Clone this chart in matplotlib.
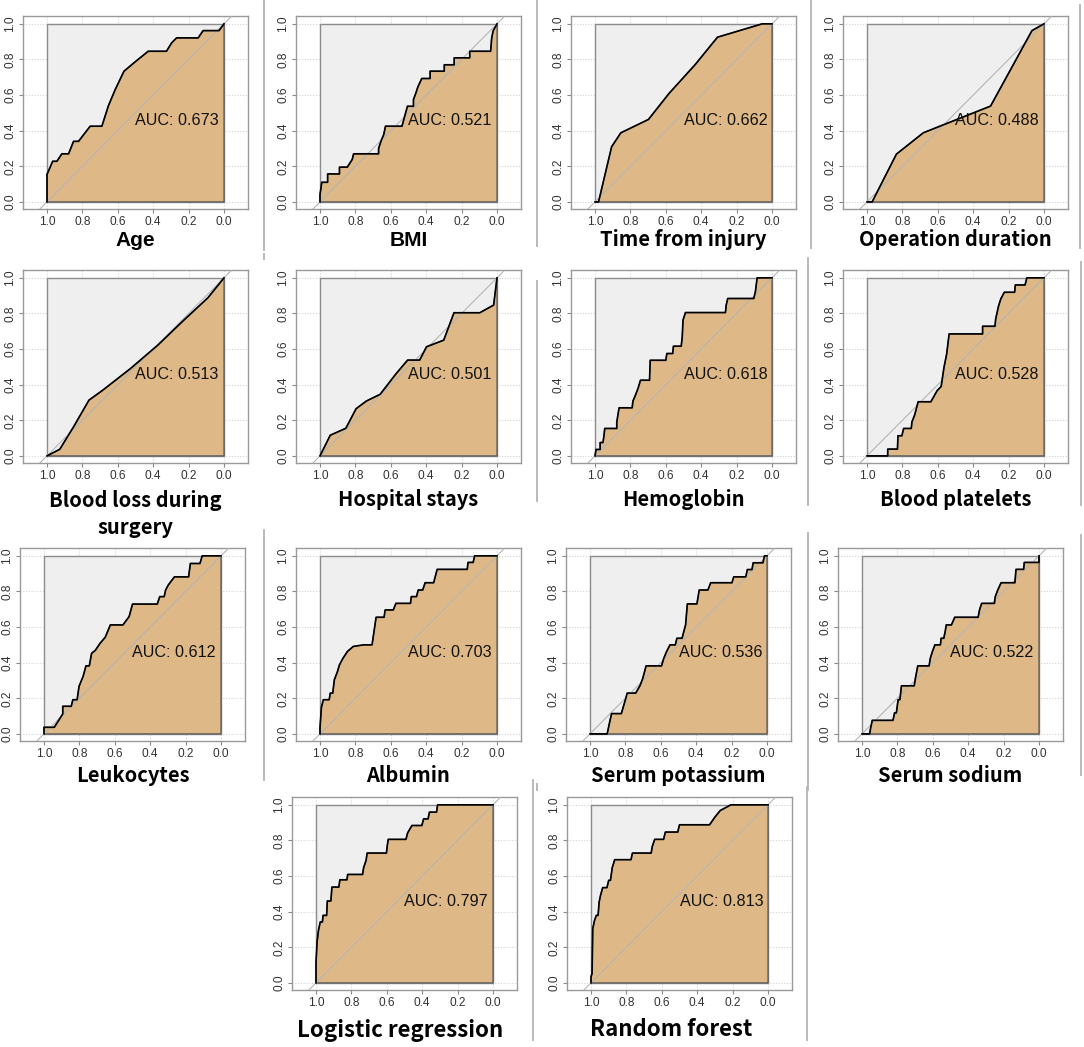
import matplotlib
matplotlib.use("Agg")
import matplotlib.pyplot as plt
from matplotlib.lines import Line2D
from matplotlib.patches import Rectangle, Polygon

# ---- data: ROC curves as (specificity, sensitivity) vertices -------------------------------------
age_spec = [1.0, 1.0, 0.968, 0.944, 0.916, 0.878, 0.85, 0.822, 0.756, 0.69, 0.653, 0.615, 0.565, 0.493,
            0.428, 0.325, 0.296, 0.268, 0.146, 0.118, 0.028, 0.0]
age_sens = [0.0, 0.154, 0.228, 0.228, 0.27, 0.27, 0.34, 0.34, 0.425, 0.425, 0.54, 0.63, 0.734, 0.794,
            0.846, 0.846, 0.893, 0.921, 0.921, 0.962, 0.962, 1.0]

bmi_spec = [1.0, 1.0, 0.99, 0.957, 0.957, 0.89, 0.89, 0.846, 0.818, 0.81, 0.669, 0.669, 0.654, 0.64, 0.63,
            0.537, 0.506, 0.472, 0.472, 0.458, 0.447, 0.425, 0.378, 0.378, 0.298, 0.298, 0.242, 0.242,
            0.154, 0.154, 0.036, 0.03, 0.022, 0.0]
bmi_sens = [0.0, 0.04, 0.11, 0.11, 0.157, 0.157, 0.195, 0.195, 0.238, 0.27, 0.27, 0.30, 0.345, 0.378, 0.425,
            0.425, 0.537, 0.537, 0.575, 0.612, 0.646, 0.693, 0.693, 0.734, 0.734, 0.77, 0.77, 0.809,
            0.809, 0.846, 0.846, 0.92, 0.96, 1.0]

time_spec = [1.0, 0.98, 0.906, 0.854, 0.698, 0.581, 0.435, 0.308, 0.055, 0.0]
time_sens = [0.0, 0.0, 0.31, 0.388, 0.463, 0.61, 0.77, 0.925, 1.0, 1.0]

oper_spec = [1.0, 0.971, 0.834, 0.682, 0.302, 0.068, 0.0]
oper_sens = [0.0, 0.0, 0.268, 0.388, 0.538, 0.962, 1.0]

blood_spec = [1.0, 0.928, 0.85, 0.763, 0.685, 0.529, 0.374, 0.237, 0.091, 0.0]
blood_sens = [0.0, 0.037, 0.163, 0.313, 0.369, 0.49, 0.622, 0.753, 0.888, 1.0]

hosp_spec = [1.0, 0.942, 0.854, 0.796, 0.738, 0.66, 0.573, 0.505, 0.437, 0.398, 0.301, 0.243, 0.097, 0.019, 0.0]
hosp_sens = [0.0, 0.116, 0.155, 0.265, 0.308, 0.346, 0.458, 0.538, 0.538, 0.613, 0.65, 0.804, 0.804, 0.847, 1.0]

hemo_spec = [1.0, 0.994, 0.971, 0.971, 0.955, 0.949, 0.945, 0.877, 0.877, 0.864, 0.79, 0.786, 0.77, 0.756,
             0.743, 0.692, 0.688, 0.6, 0.594, 0.561, 0.557, 0.513, 0.507, 0.503, 0.489, 0.263, 0.259, 0.25,
             0.103, 0.094, 0.084, 0.0]
hemo_sens = [0.0, 0.036, 0.036, 0.075, 0.075, 0.116, 0.154, 0.154, 0.19, 0.27, 0.27, 0.307, 0.345, 0.382,
             0.425, 0.425, 0.537, 0.537, 0.575, 0.575, 0.616, 0.616, 0.67, 0.762, 0.805, 0.805, 0.846, 0.884,
             0.884, 0.921, 1.0, 1.0]

plt_spec = [1.0, 0.883, 0.883, 0.828, 0.825, 0.803, 0.793, 0.75, 0.746, 0.731, 0.711, 0.639, 0.604, 0.581,
            0.565, 0.55, 0.536, 0.347, 0.347, 0.277, 0.273, 0.257, 0.244, 0.224, 0.166, 0.162, 0.107, 0.097, 0.0]
plt_sens = [0.0, 0.0, 0.038, 0.038, 0.113, 0.113, 0.154, 0.154, 0.191, 0.229, 0.304, 0.304, 0.366, 0.39,
            0.497, 0.572, 0.685, 0.685, 0.728, 0.728, 0.769, 0.841, 0.882, 0.919, 0.919, 0.96, 0.96, 1.0, 1.0]

leuk_spec = [1.0, 1.0, 0.942, 0.894, 0.894, 0.846, 0.837, 0.813, 0.802, 0.779, 0.763, 0.744, 0.731, 0.711,
             0.683, 0.654, 0.625, 0.554, 0.519, 0.5, 0.36, 0.346, 0.321, 0.313, 0.298, 0.263, 0.183, 0.173,
             0.119, 0.106, 0.0]
leuk_sens = [0.0, 0.037, 0.037, 0.112, 0.155, 0.155, 0.192, 0.192, 0.267, 0.323, 0.382, 0.382, 0.453, 0.468,
             0.509, 0.543, 0.612, 0.612, 0.659, 0.729, 0.729, 0.771, 0.771, 0.808, 0.836, 0.882, 0.882, 0.957,
             0.957, 1.0, 1.0]

alb_spec = [1.0, 1.0, 0.992, 0.981, 0.948, 0.942, 0.928, 0.919, 0.903, 0.89, 0.87, 0.845, 0.812, 0.754, 0.706,
            0.683, 0.638, 0.632, 0.586, 0.571, 0.489, 0.484, 0.455, 0.445, 0.42, 0.406, 0.358, 0.338, 0.168,
            0.164, 0.135, 0.126, 0.0]
alb_sens = [0.0, 0.034, 0.149, 0.192, 0.192, 0.229, 0.229, 0.304, 0.345, 0.388, 0.425, 0.463, 0.491, 0.5, 0.5,
            0.655, 0.655, 0.696, 0.696, 0.733, 0.733, 0.771, 0.771, 0.808, 0.808, 0.849, 0.849, 0.924, 0.924,
            0.963, 0.963, 1.0, 1.0]

pot_spec = [1.0, 0.903, 0.887, 0.878, 0.823, 0.8, 0.79, 0.742, 0.718, 0.703, 0.683, 0.596, 0.583, 0.567, 0.548,
            0.518, 0.509, 0.48, 0.46, 0.45, 0.396, 0.383, 0.334, 0.318, 0.198, 0.188, 0.12, 0.111, 0.085,
            0.078, 0.023, 0.014, 0.0]
pot_sens = [0.0, 0.0, 0.075, 0.114, 0.114, 0.192, 0.229, 0.229, 0.27, 0.308, 0.382, 0.382, 0.425, 0.463, 0.5,
            0.5, 0.537, 0.537, 0.612, 0.73, 0.73, 0.808, 0.808, 0.849, 0.849, 0.882, 0.882, 0.923, 0.923,
            0.961, 0.961, 1.0, 1.0]

sod_spec = [1.0, 0.957, 0.951, 0.942, 0.825, 0.816, 0.806, 0.796, 0.786, 0.777, 0.705, 0.699, 0.685, 0.621,
            0.614, 0.602, 0.588, 0.557, 0.553, 0.538, 0.53, 0.524, 0.495, 0.476, 0.344, 0.336, 0.324, 0.252,
            0.247, 0.233, 0.214, 0.136, 0.13, 0.087, 0.083, 0.0, 0.0]
sod_sens = [0.0, 0.0, 0.034, 0.076, 0.076, 0.118, 0.118, 0.192, 0.192, 0.27, 0.27, 0.308, 0.382, 0.382,
            0.425, 0.463, 0.5, 0.5, 0.537, 0.537, 0.575, 0.612, 0.612, 0.655, 0.655, 0.696, 0.733, 0.733,
            0.771, 0.808, 0.849, 0.849, 0.924, 0.924, 0.963, 0.963, 1.0]

lr_spec = [1.0, 1.0, 0.994, 0.986, 0.976, 0.964, 0.96, 0.94, 0.936, 0.916, 0.91, 0.871, 0.865, 0.825, 0.821,
           0.737, 0.731, 0.717, 0.711, 0.602, 0.598, 0.592, 0.492, 0.482, 0.458, 0.402, 0.392, 0.367, 0.359,
           0.319, 0.313, 0.0]
lr_sens = [0.0, 0.112, 0.23, 0.295, 0.342, 0.342, 0.379, 0.379, 0.46, 0.46, 0.538, 0.538, 0.579, 0.579, 0.609,
           0.609, 0.647, 0.688, 0.729, 0.729, 0.766, 0.806, 0.806, 0.843, 0.884, 0.884, 0.921, 0.921, 0.959,
           0.959, 1.0, 1.0]

rf_spec = [1.0, 1.0, 0.994, 0.99, 0.98, 0.97, 0.96, 0.954, 0.946, 0.934, 0.91, 0.9, 0.89, 0.88, 0.866, 0.774,
           0.766, 0.66, 0.654, 0.64, 0.59, 0.58, 0.51, 0.5, 0.33, 0.3, 0.27, 0.21, 0.0]
rf_sens = [0.0, 0.034, 0.052, 0.305, 0.351, 0.379, 0.379, 0.454, 0.492, 0.535, 0.535, 0.576, 0.576, 0.647,
           0.692, 0.692, 0.729, 0.729, 0.766, 0.806, 0.806, 0.847, 0.847, 0.888, 0.888, 0.931, 0.968, 1.0, 1.0]

titles = ["Age", "BMI", "Time from injury", "Operation duration",
          "Blood loss during\nsurgery", "Hospital stays", "Hemoglobin", "Blood platelets",
          "Leukocytes", "Albumin", "Serum potassium", "Serum sodium",
          "Logistic regression", "Random forest"]
aucs = [0.673, 0.521, 0.662, 0.488, 0.513, 0.501, 0.618, 0.528,
        0.612, 0.703, 0.536, 0.522, 0.797, 0.813]
specs = [age_spec, bmi_spec, time_spec, oper_spec, blood_spec, hosp_spec, hemo_spec, plt_spec,
         leuk_spec, alb_spec, pot_spec, sod_spec, lr_spec, rf_spec]
senss = [age_sens, bmi_sens, time_sens, oper_sens, blood_sens, hosp_sens, hemo_sens, plt_sens,
         leuk_sens, alb_sens, pot_sens, sod_sens, lr_sens, rf_sens]
ticks = [0.0, 0.2, 0.4, 0.6, 0.8, 1.0]

# ---- layout (pixels) --------------------------------------------------------------------------------
W, H = 1084, 1047
FW, FH = 225, 193          # frame size of one panel
frames = [(23, 16), (296, 16), (571, 16), (843, 16),
          (23, 270), (296, 270), (571, 270), (843, 270),
          (20, 548), (296, 548), (566, 548), (838, 548),
          (292, 797), (567, 797)]
title_y = [240] * 4 + [514, 500, 500, 500] + [775] * 4 + [1030] * 2
title_dx = [0] * 12 + [-4, -8]
title_size = [15, 15] + [14.5] * 10 + [16, 16]

TAN = "#deb887"
LIGHT = "#efefef"
FRAME = "#9a9a9a"
TITLE_FONT = ["Noto Sans CJK SC", "DejaVu Sans"]

fig = plt.figure(figsize=(W / 100, H / 100), dpi=100)


def px_rect(left, top, w, h):
    return [left / W, 1 - (top + h) / H, w / W, h / H]


for i, (spec, sens) in enumerate(zip(specs, senss)):
    left, top = frames[i]
    ax = fig.add_axes(px_rect(left, top, FW, FH))
    ax.set_xlim(1.1356, -0.1356)
    ax.set_ylim(-0.04, 1.044)

    # dotted grid below everything
    for t in ticks:
        ax.axhline(t, color="#d4d4d4", lw=0.8, ls=(0, (1, 1.5)), zorder=0)
        ax.axvline(t, color="#d4d4d4", lw=0.8, ls=(0, (1, 1.5)), zorder=0)

    # max-auc box and auc polygon
    ax.add_patch(Rectangle((0, 0), 1, 1, facecolor=LIGHT, edgecolor="#8c8c8c", lw=1.0, zorder=1))
    poly = list(zip(spec, sens)) + [(0.0, 0.0), (1.0, 0.0)]
    ax.add_patch(Polygon(poly, closed=True, facecolor=TAN, edgecolor="#5a5a5a", lw=0.9, zorder=2))

    # chance line and curve
    ax.plot([1.04, -0.04], [-0.04, 1.04], color="#b5b5b5", lw=0.8, zorder=3)
    ax.plot(spec, sens, color="black", lw=1.2, zorder=4)

    ax.text(0.5, 0.455, "AUC: %.3f" % aucs[i], ha="left", va="center",
            fontsize=11.6, family="Liberation Sans", color="#111111", zorder=5)

    ax.set_xticks(ticks)
    ax.set_yticks(ticks)
    ax.set_xticklabels(["%.1f" % t for t in ticks], family="Liberation Sans", fontsize=8.6, color="#333333")
    ax.set_yticklabels(["%.1f" % t for t in ticks], family="Liberation Sans", fontsize=8.6, color="#333333",
                       rotation=90, va="center")
    ax.tick_params(direction="out", length=3, width=0.8, color="#888888", pad=2)
    for s in ax.spines.values():
        s.set_color(FRAME)
        s.set_linewidth(1.0)

    family = ["Liberation Sans"] if i < 2 else TITLE_FONT
    fig.text((left + FW / 2 + title_dx[i]) / W, 1 - title_y[i] / H, titles[i], ha="center", va="center",
             fontsize=title_size[i], fontweight="bold", family=family, linespacing=1.3)

# row 4 picture edges clip the row 3 titles
fig.add_artist(Rectangle((263 / W, 1 - 796 / H), (807 - 263) / W, 10 / H, transform=fig.transFigure,
                         facecolor="white", edgecolor="none", zorder=10))

# separator strokes between panel pictures
seps = [(264, 0, 250), (537, 0, 246), (811, 0, 248), (1080, 5, 248),
        (264, 254, 259), (537, 281, 501), (808, 258, 505), (1081, 262, 505),
        (264, 530, 780), (537, 784, 790), (808, 533, 790), (1081, 535, 775),
        (533, 780, 1040), (807, 787, 1040)]
for x, y1, y2 in seps:
    fig.add_artist(Line2D([x / W, x / W], [1 - y1 / H, 1 - y2 / H], transform=fig.transFigure,
                          color="#b4b4b4", lw=1.3, zorder=11))

fig.savefig("out.png", dpi=100)
